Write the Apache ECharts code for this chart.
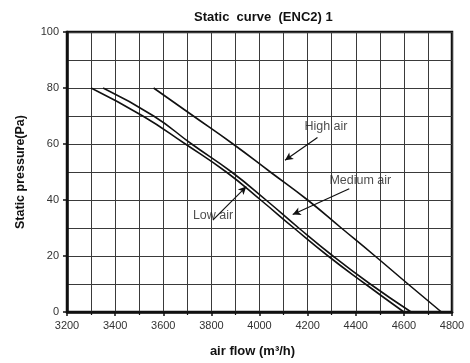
<!DOCTYPE html>
<html>
<head>
<meta charset="utf-8">
<script src="https://cdn.jsdelivr.net/npm/echarts@6/dist/echarts.min.js"></script>
<style>
html,body{margin:0;padding:0;background:#fff;}
#c{width:470px;height:363px;}
</style>
</head>
<body>
<div id="c"></div>
<script>
// Static pressure levels (Pa)
var pressure = [80, 70, 60, 50, 40, 30, 20, 10, 0];
// Air flow (m3/h) at each pressure level
var lowAir    = [3300, 3515, 3692, 3862, 4005, 4143, 4285, 4440, 4600];
var mediumAir = [3350, 3560, 3718, 3884, 4027, 4163, 4305, 4460, 4630];
var highAir   = [3560, 3725, 3890, 4045, 4200, 4340, 4480, 4617, 4756];

// Annotation labels [airflow, pressure]
var labelNames = ['High air', 'Medium air', 'Low air'];
var labelPos = [[4276, 66.3], [4419, 47.1], [3807, 34.5]];
// Annotation arrows: from [airflow, pressure] to [airflow, pressure]
var arrowFrom = [[4241, 62.3], [4373, 44.0], [3806, 32.8]];
var arrowTo   = [[4106, 54.2], [4138, 34.8], [3945, 44.8]];

function pairs(xs, ys) { return xs.map(function (x, i) { return [x, ys[i]]; }); }

var FONT = 'Liberation Sans';
var chart = echarts.init(document.getElementById('c'), null, {renderer: 'canvas'});

function curve(name, xs) {
  return {
    name: name, type: 'line', data: pairs(xs, pressure),
    showSymbol: false, smooth: 0.5,
    lineStyle: {color: '#111', width: 1.6},
    silent: true, animation: false
  };
}

var option = {
  animation: false,
  backgroundColor: '#fff',
  title: {
    text: 'Static  curve  (ENC2) 1',
    left: 189, top: 6,
    textStyle: {fontFamily: FONT, fontSize: 13, fontWeight: 'bold', color: '#111'}
  },
  grid: {
    left: 67, right: 18, top: 32, bottom: 48,
    show: true, borderColor: '#111', borderWidth: 2.5, backgroundColor: 'transparent'
  },
  xAxis: {
    type: 'value', min: 3200, max: 4800, interval: 200,
    name: 'air flow (m³/h)', nameLocation: 'middle', nameGap: 33,
    nameTextStyle: {fontFamily: FONT, fontSize: 13, fontWeight: 'bold', color: '#111', padding: [0, 14, 0, 0]},
    axisLine: {show: true, lineStyle: {color: '#111', width: 2.5}},
    axisTick: {show: true, length: 4, lineStyle: {color: '#111', width: 1.5}},
    minorTick: {show: true, splitNumber: 2, length: 3, lineStyle: {color: '#111', width: 1.2}},
    axisLabel: {fontFamily: FONT, fontSize: 11, color: '#333', margin: 8,
      formatter: function (v) { return String(v); }},
    splitLine: {show: true, lineStyle: {color: '#3a3a3a', width: 1}},
    minorSplitLine: {show: true, lineStyle: {color: '#3a3a3a', width: 1}}
  },
  yAxis: {
    type: 'value', min: 0, max: 100, interval: 20,
    name: 'Static pressure(Pa)', nameLocation: 'middle', nameGap: 40,
    nameTextStyle: {fontFamily: FONT, fontSize: 12.5, fontWeight: 'bold', color: '#111'},
    axisLine: {show: true, lineStyle: {color: '#111', width: 2.5}},
    axisTick: {show: true, length: 4, lineStyle: {color: '#111', width: 1.5}},
    minorTick: {show: false, splitNumber: 2},
    axisLabel: {fontFamily: FONT, fontSize: 11, color: '#333', margin: 8},
    splitLine: {show: true, lineStyle: {color: '#3a3a3a', width: 1}},
    minorSplitLine: {show: true, lineStyle: {color: '#3a3a3a', width: 1}}
  },
  series: [
    curve('Low air', lowAir),
    curve('Medium air', mediumAir),
    curve('High air', highAir),
    {
      name: 'labels', type: 'scatter', symbolSize: 0, silent: true, animation: false,
      data: labelPos.map(function (p, i) { return {value: p, name: labelNames[i]}; }),
      label: {
        show: true, position: 'inside', formatter: '{b}',
        fontFamily: FONT, fontSize: 12.5, color: '#222'
      },
      markLine: {
        silent: true, animation: false,
        symbol: ['none', 'arrow'], symbolSize: [6, 8],
        lineStyle: {color: '#111', width: 1.2, type: 'solid'},
        label: {show: false},
        data: arrowFrom.map(function (f, i) {
          return [{coord: f}, {coord: arrowTo[i]}];
        })
      }
    }
  ]
};
chart.setOption(option);
</script>
</body>
</html>
